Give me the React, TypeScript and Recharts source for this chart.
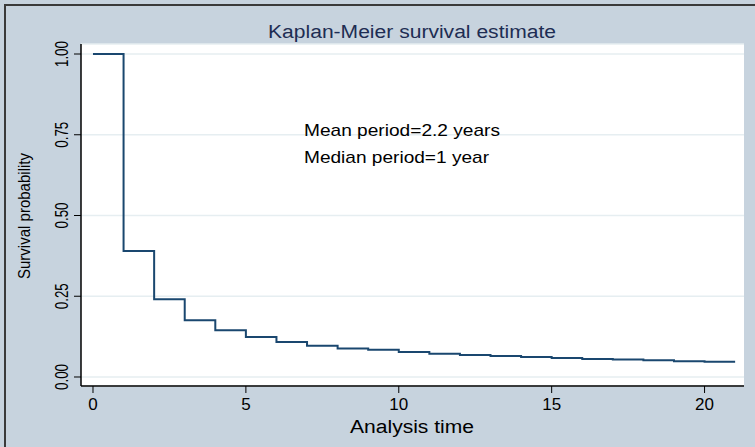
import { LineChart, Line, XAxis, YAxis, CartesianGrid } from "recharts";

// Kaplan-Meier step estimate
const times = [0, 1, 2, 3, 4, 5, 6, 7, 8, 9, 10, 11, 12, 13, 14, 15, 16, 17, 18, 19, 20, 21];
const survival = [
  1.0, 0.39, 0.241, 0.176, 0.145, 0.124, 0.108, 0.097, 0.088, 0.084, 0.077,
  0.072, 0.068, 0.065, 0.062, 0.059, 0.056, 0.054, 0.052, 0.049, 0.047, 0.047,
];
const xTicks = [0, 5, 10, 15, 20];
const yTicks = [0, 0.25, 0.5, 0.75, 1];
const notes = ["Mean period=2.2 years", "Median period=1 year"];

const data = times.map((t, i) => ({ t, s: survival[i] }));

const FONT = "'Liberation Sans', Arial, Helvetica, sans-serif";
const NAVY = "#1A476F";
const BG = "#C7D3DE";

function YTick(props: any) {
  const { x, y, payload } = props;
  return (
    <g transform={`translate(${x - 4},${y}) rotate(-90)`}>
      <text
        textAnchor="middle"
        fontSize={18}
        fontFamily={FONT}
        fill="#000"
        textLength={26}
        lengthAdjust="spacingAndGlyphs"
      >
        {payload.value.toFixed(2)}
      </text>
    </g>
  );
}

function XTick(props: any) {
  const { x, y, payload } = props;
  return (
    <text x={x} y={y + 15} textAnchor="middle" fontSize={17} fontFamily={FONT} fill="#000">
      {payload.value}
    </text>
  );
}

export default function App() {
  return (
    <div style={{ position: "relative", width: 755, height: 447, background: BG, overflow: "hidden" }}>
      <style>{"body{margin:0}"}</style>
      <div
        style={{
          position: "absolute",
          left: 4,
          top: 4,
          width: 800,
          height: 500,
          borderLeft: "2px solid #3a3a3a",
          borderTop: "2px solid #3a3a3a",
        }}
      />
      <LineChart
        width={755}
        height={447}
        data={data}
        margin={{ top: 44, right: 11, left: 0, bottom: 0 }}
        style={{ position: "absolute", left: 0, top: 0 }}
      >
        <CartesianGrid vertical={false} stroke="#E6EEF1" strokeWidth={1.5} fill="#FFFFFF" fillOpacity={1} />
        <XAxis
          dataKey="t"
          type="number"
          domain={[-0.392, 21.29]}
          ticks={xTicks}
          allowDataOverflow
          height={61}
          tickSize={7}
          axisLine={{ stroke: "#000", strokeWidth: 1.5 }}
          tickLine={{ stroke: "#000" }}
          tick={<XTick />}
        />
        <YAxis
          type="number"
          domain={[-0.0279, 1.031]}
          ticks={yTicks}
          allowDataOverflow
          width={81}
          tickSize={7}
          axisLine={{ stroke: "#000", strokeWidth: 1.5 }}
          tickLine={{ stroke: "#000" }}
          tick={<YTick />}
        />
        <Line
          type="stepAfter"
          dataKey="s"
          stroke={NAVY}
          strokeWidth={2}
          dot={false}
          isAnimationActive={false}
        />
      </LineChart>
      <svg
        width={755}
        height={447}
        style={{ position: "absolute", left: 0, top: 0, pointerEvents: "none" }}
        fontFamily={FONT}
      >
        <text x={412} y={38} textAnchor="middle" fontSize={18} fill="#1E2D53" textLength={288} lengthAdjust="spacingAndGlyphs">
          Kaplan-Meier survival estimate
        </text>
        <text x={304} y={136} fontSize={17} fill="#000" textLength={196} lengthAdjust="spacingAndGlyphs">
          {notes[0]}
        </text>
        <text x={304} y={163} fontSize={17} fill="#000" textLength={185} lengthAdjust="spacingAndGlyphs">
          {notes[1]}
        </text>
        <text x={412} y={433} textAnchor="middle" fontSize={18} fill="#000" textLength={124} lengthAdjust="spacingAndGlyphs">
          Analysis time
        </text>
        <g transform="translate(30,216) rotate(-90)">
          <text textAnchor="middle" fontSize={17} fill="#000" textLength={126} lengthAdjust="spacingAndGlyphs">
            Survival probability
          </text>
        </g>
      </svg>
    </div>
  );
}
